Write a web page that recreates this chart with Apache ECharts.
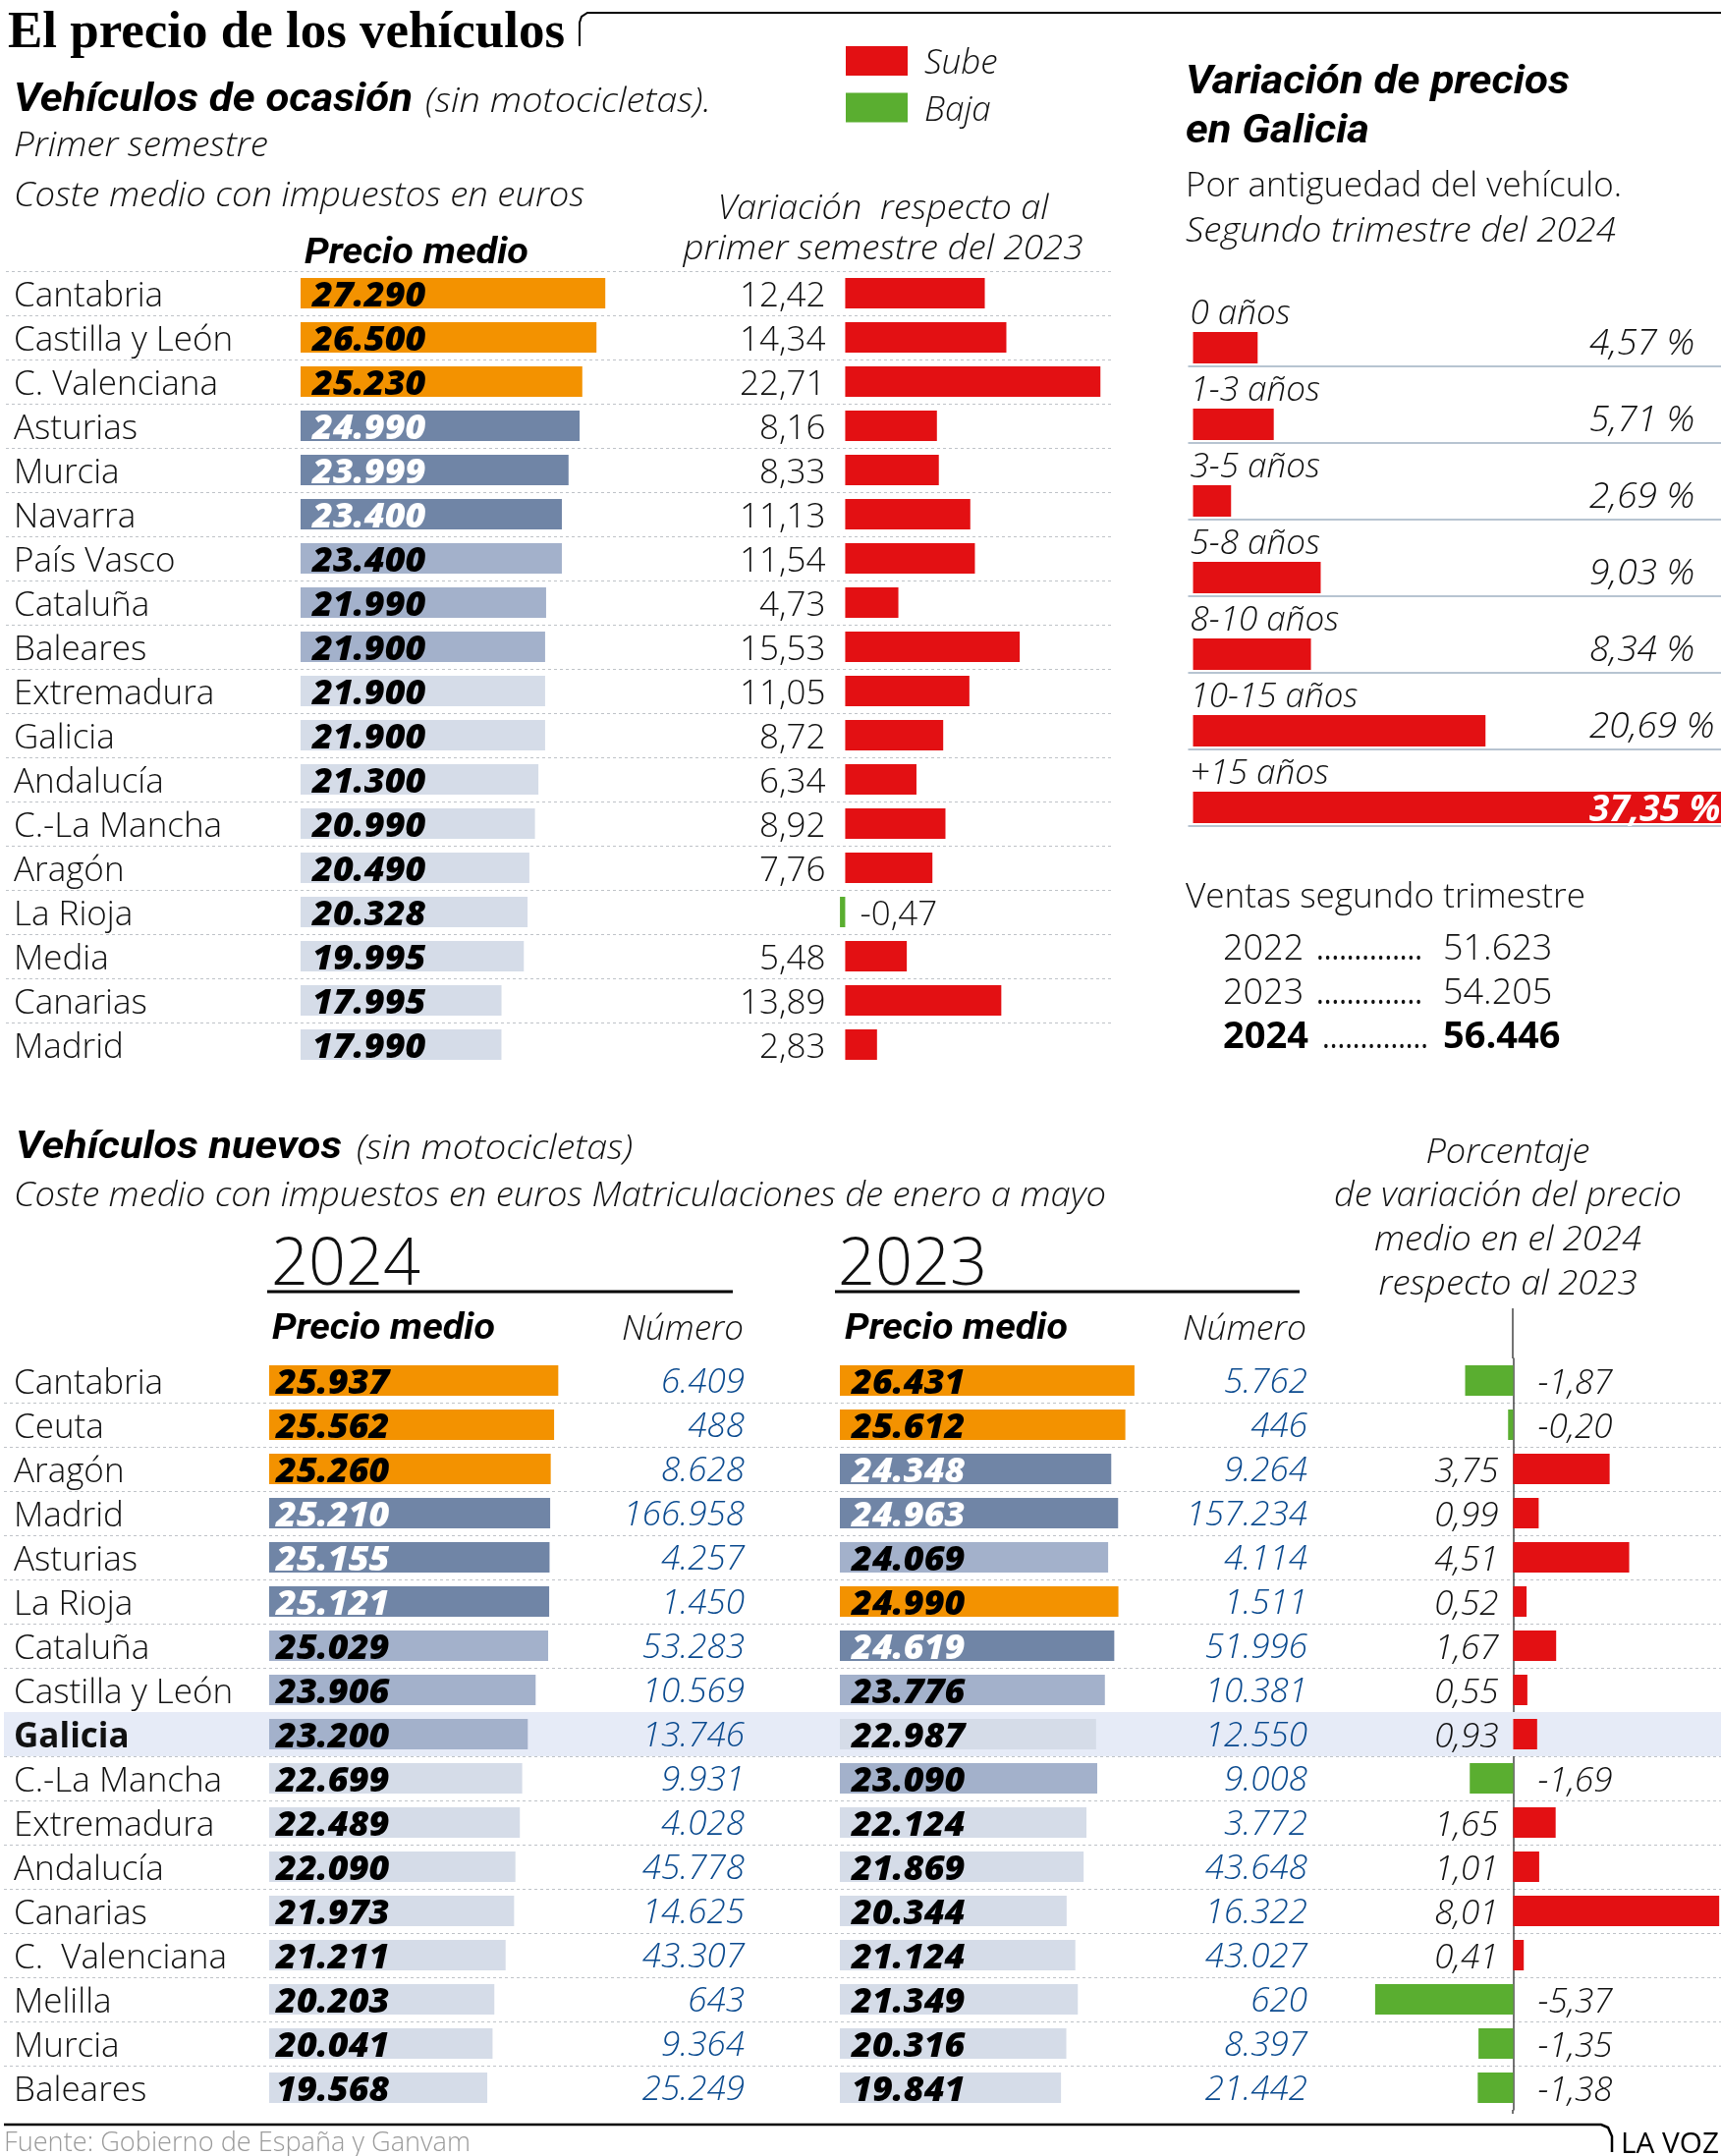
<!DOCTYPE html>
<html>
<head>
<meta charset="utf-8">
<title>El precio de los vehículos</title>
<script src="https://cdn.jsdelivr.net/npm/echarts@6/dist/echarts.min.js"></script>
<style>
  html, body { margin: 0; background: #fff; }
  #chart { width: 1752px; height: 2195px; }
</style>
</head>
<body>
<div id="chart"></div>
<script>
// vehiculos de ocasion
const usedRegions = ['Cantabria', 'Castilla y León', 'C. Valenciana', 'Asturias', 'Murcia', 'Navarra', 'País Vasco', 'Cataluña', 'Baleares', 'Extremadura', 'Galicia', 'Andalucía', 'C.-La Mancha', 'Aragón', 'La Rioja', 'Media', 'Canarias', 'Madrid']
const usedPrices = [27290, 26500, 25230, 24990, 23999, 23400, 23400, 21990, 21900, 21900, 21900, 21300, 20990, 20490, 20328, 19995, 17995, 17990]
const usedTiers = [0, 0, 0, 1, 1, 1, 2, 2, 2, 3, 3, 3, 3, 3, 3, 3, 3, 3]
const usedChange = [12.42, 14.34, 22.71, 8.16, 8.33, 11.13, 11.54, 4.73, 15.53, 11.05, 8.72, 6.34, 8.92, 7.76, -0.47, 5.48, 13.89, 2.83]

// galicia por antiguedad
const ageGroups = ['0 años', '1-3 años', '3-5 años', '5-8 años', '8-10 años', '10-15 años', '+15 años']
const ageChange = [4.57, 5.71, 2.69, 9.03, 8.34, 20.69, 37.35]
const salesYears = ['2022', '2023', '2024']
const salesValues = [51623, 54205, 56446]

// vehiculos nuevos
const newRegions = ['Cantabria', 'Ceuta', 'Aragón', 'Madrid', 'Asturias', 'La Rioja', 'Cataluña', 'Castilla y León', 'Galicia', 'C.-La Mancha', 'Extremadura', 'Andalucía', 'Canarias', 'C.  Valenciana', 'Melilla', 'Murcia', 'Baleares']
const prices2024 = [25937, 25562, 25260, 25210, 25155, 25121, 25029, 23906, 23200, 22699, 22489, 22090, 21973, 21211, 20203, 20041, 19568]
const tiers2024 = [0, 0, 0, 1, 1, 1, 2, 2, 2, 3, 3, 3, 3, 3, 3, 3, 3]
const numbers2024 = [6409, 488, 8628, 166958, 4257, 1450, 53283, 10569, 13746, 9931, 4028, 45778, 14625, 43307, 643, 9364, 25249]
const prices2023 = [26431, 25612, 24348, 24963, 24069, 24990, 24619, 23776, 22987, 23090, 22124, 21869, 20344, 21124, 21349, 20316, 19841]
const tiers2023 = [0, 0, 1, 1, 2, 0, 1, 2, 3, 2, 3, 3, 3, 3, 3, 3, 3]
const numbers2023 = [5762, 446, 9264, 157234, 4114, 1511, 51996, 10381, 12550, 9008, 3772, 43648, 16322, 43027, 620, 8397, 21442]
const newChange = [-1.87, -0.20, 3.75, 0.99, 4.51, 0.52, 1.67, 0.55, 0.93, -1.69, 1.65, 1.01, 8.01, 0.41, -5.37, -1.35, -1.38]

const RED = '#E31013'
const GREEN = '#5AAE30'
const BLUE = '#0A4A8F'
const TIER_FILL = ['#F39200', '#7085A6', '#A3B1CB', '#D5DCE8']
const TIER_TEXT = ['#000', '#fff', '#000', '#000']
const SANS = 'Open Sans'
const HEAD = 'Roboto'
const BODY_SIZE = 35

const thousands = n => String(n).replace(/\B(?=(\d{3})+$)/g, '.')
const comma = n => n.toFixed(2).replace('.', ',')

const grids = []
const xAxes = []
const yAxes = []
const series = []

// adds a grid with its hidden value axis, returns the index
function addGrid(left, top, width, height, min, max) {
  grids.push({ left, top, width, height, containLabel: false })
  const i = grids.length - 1
  xAxes.push({ gridIndex: i, type: 'value', min, max, show: false })
  return i
}

function hiddenCats(gridIndex, data) {
  yAxes.push({ gridIndex, type: 'category', inverse: true, data, show: false })
  return yAxes.length - 1
}

// backdrop grid: region names and dashed row lines
// a short lineHeight with top alignment drops the text a few px below the band centre
function rowLines(left, top, width, height, names, margin, showMinLine, bold) {
  const g = addGrid(left, top, width, height, 0, 1)
  yAxes.push({
    gridIndex: g, type: 'category', inverse: true,
    data: names.map(n => n === bold ? { value: n, textStyle: { fontWeight: 'bold', verticalAlign: 'top', lineHeight: 8 } } : n),
    axisLine: { show: false }, axisTick: { show: false },
    axisLabel: { interval: 0, inside: true, align: 'left', margin, verticalAlign: 'top', lineHeight: 8, color: '#111', fontFamily: SANS, fontWeight: 300, fontSize: BODY_SIZE },
    splitLine: { show: true, showMinLine, showMaxLine: false, lineStyle: { color: '#BFC3C8', type: [3, 3], width: 1 } }
  })
  return [g, yAxes.length - 1]
}

function priceSeries(g, y, values, tiers, inset, barWidth) {
  series.push({
    type: 'bar', xAxisIndex: g, yAxisIndex: y, barWidth, silent: true,
    data: values.map((v, i) => ({
      value: v,
      itemStyle: { color: TIER_FILL[tiers[i]] },
      label: { color: TIER_TEXT[tiers[i]] }
    })),
    label: {
      show: true, position: 'insideLeft', distance: inset, offset: [0, 3],
      formatter: p => thousands(p.value),
      fontFamily: SANS, fontStyle: 'italic', fontWeight: 800, fontSize: 36
    }
  })
}

function changeSeries(g, y, values, barWidth, upGap, downGap, fontStyle) {
  const labelStyle = { color: '#111', fontFamily: SANS, fontWeight: 300, fontStyle, fontSize: BODY_SIZE, offset: [0, 3.5] }
  series.push({
    name: 'Sube', type: 'bar', xAxisIndex: g, yAxisIndex: y, barWidth, barGap: '-100%', silent: true,
    itemStyle: { color: RED },
    data: values.map(v => v >= 0 ? v : '-'),
    label: { show: true, position: 'left', distance: upGap, formatter: p => comma(p.value), ...labelStyle }
  })
  series.push({
    name: 'Baja', type: 'bar', xAxisIndex: g, yAxisIndex: y, barWidth, barGap: '-100%', silent: true,
    itemStyle: { color: GREEN },
    data: values.map(v => v < 0 ? v : '-'),
    label: { show: true, position: 'right', distance: downGap, formatter: p => comma(p.value), ...labelStyle }
  })
}

// ---- used vehicles table
rowLines(6, 276, 1125, 810, usedRegions, 8, true)
const usedPriceGrid = addGrid(306, 276, 341, 810, 0, 30000)
priceSeries(usedPriceGrid, hiddenCats(usedPriceGrid, usedRegions), usedPrices, usedTiers, 12, 31)
const usedChangeGrid = addGrid(849, 276, 286, 810, -1, 24)
changeSeries(usedChangeGrid, hiddenCats(usedChangeGrid, usedRegions), usedChange, 31, 20, 15, 'normal')

// ---- age bars, the label sits over the bar so a clear series takes the upper half of each row
const ageGrid = addGrid(1209.5, 294.5, 542.5, 546, -0.35, 37.35)
yAxes.push({
  gridIndex: ageGrid, type: 'category', inverse: true, data: ageGroups,
  axisLine: { show: false }, axisTick: { show: false },
  axisLabel: { interval: 0, inside: true, align: 'left', verticalAlign: 'bottom', lineHeight: 27, margin: 2, color: '#111', fontFamily: SANS, fontStyle: 'italic', fontWeight: 300, fontSize: BODY_SIZE },
  splitLine: { show: true, showMinLine: false, lineStyle: { color: '#9FB0C2', width: 1.5 } }
})
const ageY = yAxes.length - 1
series.push({
  type: 'bar', xAxisIndex: ageGrid, yAxisIndex: ageY, barWidth: 32, barGap: '28%', silent: true,
  itemStyle: { color: 'transparent' }, data: ageChange
})
series.push({
  type: 'bar', xAxisIndex: ageGrid, yAxisIndex: ageY, barWidth: 32, barGap: '28%', silent: true,
  itemStyle: { color: RED },
  data: ageChange.map((v, i) => i === ageChange.length - 1
    ? { value: v, label: { color: '#fff', fontWeight: 'bold' } }
    : v),
  label: {
    show: true, position: 'inside', formatter: p => comma(p.value) + ' %',
    color: '#111', fontFamily: SANS, fontStyle: 'italic', fontWeight: 300, fontSize: 37
  },
  labelLayout: p => ({ x: 1618, dy: p.dataIndex === ageChange.length - 1 ? 3 : -4, align: 'left', verticalAlign: 'middle' })
})

// ---- new vehicles table
const newBack = rowLines(4, 1383, 1748, 765, newRegions, 10, false, 'Galicia')
series.push({
  type: 'bar', xAxisIndex: newBack[0], yAxisIndex: newBack[1], barWidth: 45, silent: true, z: 0,
  itemStyle: { color: '#E6EBF7' },
  data: newRegions.map(r => r === 'Galicia' ? 1 : '-')
})

function yearTable(left, width, max, values, tiers, numbers, inset) {
  const g = addGrid(left, 1383, width, 765, 0, max)
  const y = hiddenCats(g, newRegions)
  priceSeries(g, y, values, tiers, inset, 31)
  // the Número column is a second category axis on the right edge of the same grid
  yAxes.push({
    gridIndex: g, type: 'category', inverse: true, position: 'right',
    data: numbers.map(thousands),
    axisLine: { show: false }, axisTick: { show: false },
    axisLabel: { interval: 0, inside: true, align: 'right', margin: 0, verticalAlign: 'top', lineHeight: 6, color: BLUE, fontFamily: SANS, fontStyle: 'italic', fontWeight: 300, fontSize: BODY_SIZE }
  })
}
yearTable(274, 484, 42650, prices2024, tiers2024, numbers2024, 7)
yearTable(855, 476, 41950, prices2023, tiers2023, numbers2023, 12)

const newChangeGrid = addGrid(1396.5, 1383, 356, 765, -5.5, 8.08)
yAxes.push({
  gridIndex: newChangeGrid, type: 'category', inverse: true, data: newRegions,
  axisTick: { show: false }, axisLabel: { show: false },
  axisLine: { show: true, onZero: true, lineStyle: { color: '#444', width: 1.5 } }
})
changeSeries(newChangeGrid, yAxes.length - 1, newChange, 31, 15, 25, 'italic')

// ---- text and rules
const graphic = []
const measure = document.createElement('canvas').getContext('2d')

// width squeezes or stretches the string to the width it has in the print version
function text(x, baseline, str, size, opts) {
  const o = opts || {}
  const font = (o.italic ? 'italic ' : '') + (o.weight || 300) + ' ' + size + 'px ' + (o.family || SANS)
  measure.font = font
  const scaleX = o.width ? o.width / measure.measureText(str).width : 1
  graphic.push({
    type: 'text', x, y: baseline - size * 0.22, scaleX, silent: true,
    style: { text: str, font, fill: o.color || '#111', align: o.align || 'left', verticalAlign: 'middle' }
  })
}
function rule(points, width, color) {
  graphic.push({
    type: 'polyline', silent: true, shape: { points },
    style: { stroke: color || '#000', lineWidth: width, fill: null }
  })
}

const head = width => ({ family: HEAD, italic: true, weight: 'bold', color: '#000', width })
const light = (width, align) => ({ italic: true, width, align })

text(8, 46, 'El precio de los vehículos', 52, { family: 'Liberation Serif', weight: 'bold', color: '#000', width: 567 })
rule([[590, 47], [590, 23], [592, 17], [598, 13], [1752, 13]], 2)

text(14, 112, 'Vehículos de ocasión', 40, head(406))
text(433, 112, '(sin motocicletas).', BODY_SIZE, light(291))
text(14, 157, 'Primer semestre', BODY_SIZE, light(259))
text(14, 208, 'Coste medio con impuestos en euros', BODY_SIZE, light(581))
text(310, 267, 'Precio medio', 37, head(228))
text(899, 221, 'Variación  respecto al', BODY_SIZE, light(337, 'center'))
text(899, 262, 'primer semestre del 2023', BODY_SIZE, light(407, 'center'))

text(1207, 94, 'Variación de precios', 40, head(391))
text(1207, 144, 'en Galicia', 40, head(187))
text(1207, 198, 'Por antiguedad del vehículo.', BODY_SIZE, { width: 444 })
text(1207, 244, 'Segundo trimestre del 2024', BODY_SIZE, light(438))

text(1207, 922, 'Ventas segundo trimestre', BODY_SIZE, { width: 407 })
salesYears.forEach((year, i) => {
  const last = i === salesYears.length - 1
  const weight = last ? 'bold' : 300
  const size = last ? 38 : 36
  const y = 975 + i * 45
  text(1245, y, year, size, { weight, color: last ? '#000' : '#111' })
  text(last ? 1346 : 1340, y, '..............', 33, { weight: 400, width: 108 })
  text(1469, y, thousands(salesValues[i]), size, { weight, color: last ? '#000' : '#111' })
})

text(16, 1178, 'Vehículos nuevos', 38, head(332))
text(363, 1178, '(sin motocicletas)', BODY_SIZE, light(281))
text(14, 1226, 'Coste medio con impuestos en euros Matriculaciones de enero a mayo', BODY_SIZE, light(1112))
text(276, 1304, '2024', 66, { width: 152 })
text(853, 1304, '2023', 66, { width: 152 })
rule([[272, 1315], [746, 1315]], 3)
rule([[850, 1315], [1323, 1315]], 3)
text(277, 1362, 'Precio medio', 37, head(227))
text(860, 1362, 'Precio medio', 37, head(227))
text(757, 1362, 'Número', BODY_SIZE, light(124, 'right'))
text(1330, 1362, 'Número', BODY_SIZE, light(126, 'right'))
text(1535, 1182, 'Porcentaje', BODY_SIZE, light(167, 'center'))
text(1535, 1226, 'de variación del precio', BODY_SIZE, light(354, 'center'))
text(1535, 1271, 'medio en el 2024', BODY_SIZE, light(272, 'center'))
text(1535, 1316, 'respecto al 2023', BODY_SIZE, light(263, 'center'))
rule([[1540, 1332], [1540, 1383]], 1.5, '#444')
rule([[1540, 2148], [1540, 2152]], 1.5, '#444')

rule([[4, 2163], [1630, 2163], [1637, 2166], [1641, 2175], [1641, 2191]], 2.5)
text(4, 2188, 'Fuente: Gobierno de España y Ganvam', 28, { color: '#9B9B9B', width: 475 })
text(1650, 2190, 'LA VOZ', 30, { weight: 400, color: '#000', width: 100 })

const chart = echarts.init(document.getElementById('chart'), null, { renderer: 'canvas' })
chart.setOption({
  animation: false,
  backgroundColor: '#fff',
  legend: {
    left: 861, top: 41, padding: 0, orient: 'vertical', icon: 'rect',
    itemWidth: 63, itemHeight: 30, itemGap: 5.5, selectedMode: false,
    data: ['Sube', 'Baja'],
    formatter: '{t|{name}}',
    textStyle: {
      padding: [0, 0, 0, 12],
      rich: { t: { color: '#111', fontFamily: SANS, fontStyle: 'italic', fontWeight: 300, fontSize: BODY_SIZE, lineHeight: 35, padding: [7, 0, 0, 0] } }
    }
  },
  grid: grids,
  xAxis: xAxes,
  yAxis: yAxes,
  series,
  graphic
})
</script>
</body>
</html>
